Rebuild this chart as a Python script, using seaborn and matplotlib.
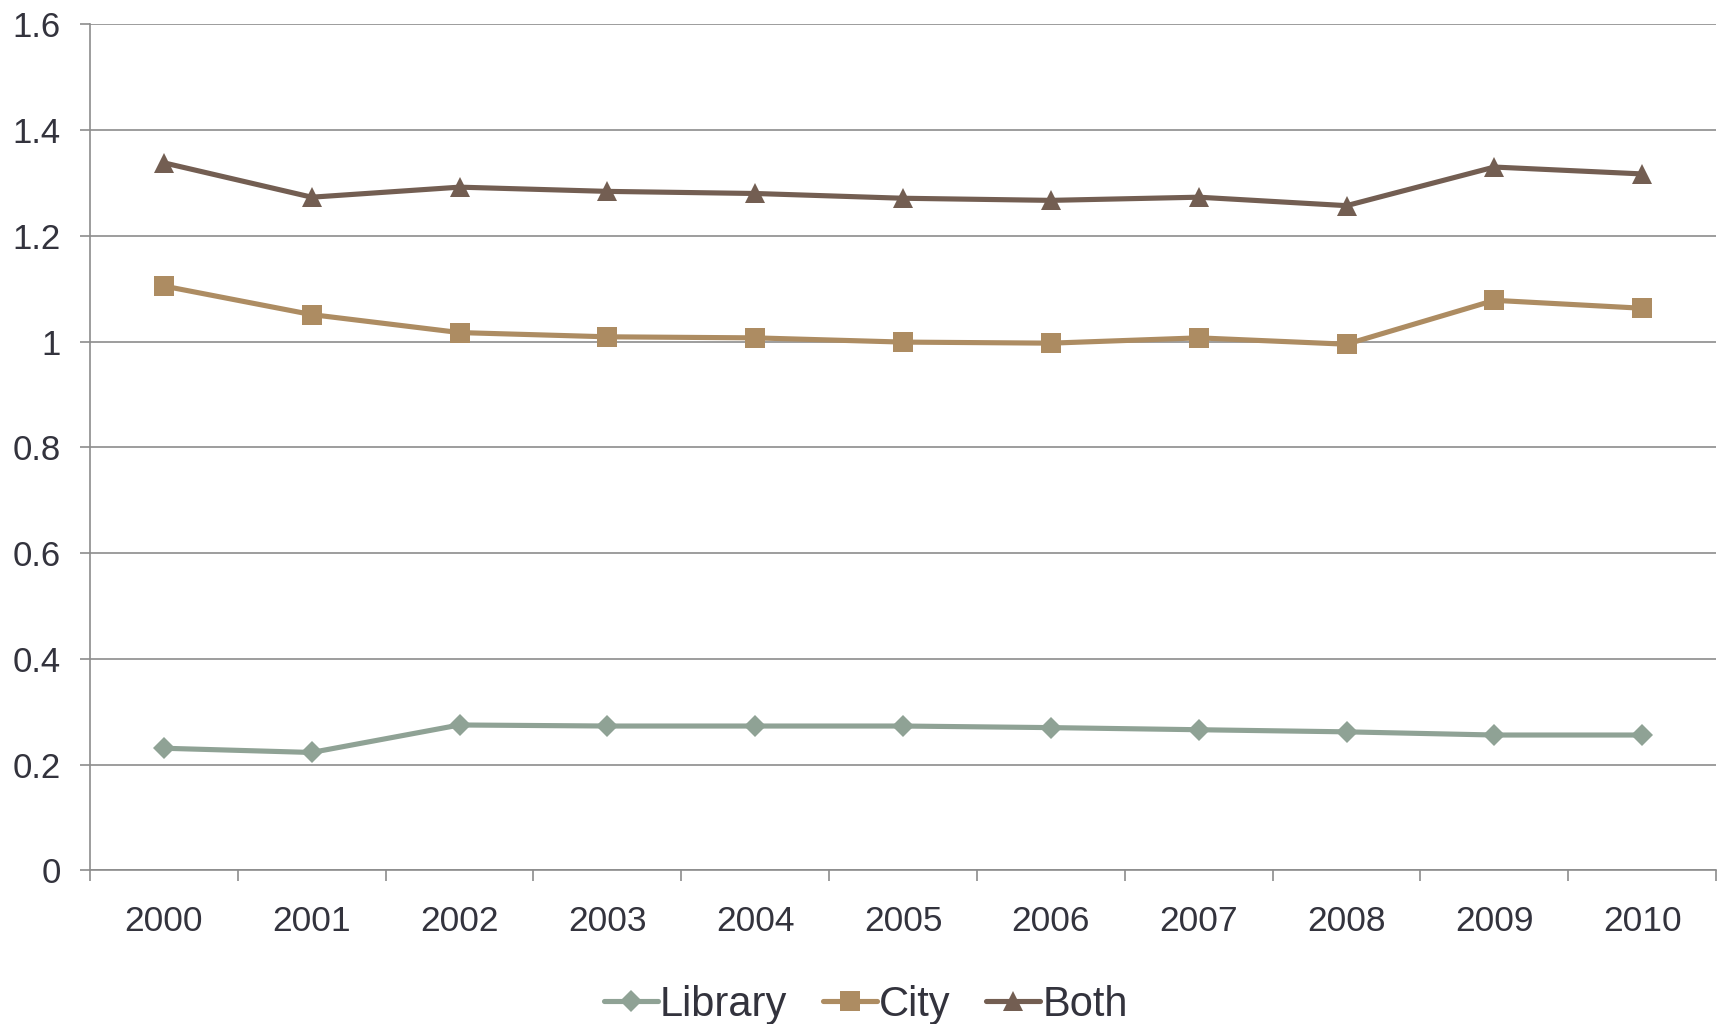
import matplotlib
matplotlib.use("Agg")
import matplotlib.pyplot as plt
from matplotlib.ticker import FixedLocator
import seaborn as sns
import pandas as pd

years = [2000, 2001, 2002, 2003, 2004, 2005, 2006, 2007, 2008, 2009, 2010]
library = [0.231, 0.223, 0.275, 0.273, 0.273, 0.273, 0.270, 0.266, 0.262, 0.256, 0.256]
city = [1.105, 1.051, 1.017, 1.009, 1.007, 0.999, 0.997, 1.007, 0.995, 1.078, 1.063]
both = [1.338, 1.273, 1.292, 1.284, 1.280, 1.271, 1.267, 1.273, 1.257, 1.330, 1.317]
series_names = ["Library", "City", "Both"]
y_ticks = [0, 0.2, 0.4, 0.6, 0.8, 1.0, 1.2, 1.4, 1.6]
y_tick_labels = ["0", "0.2", "0.4", "0.6", "0.8", "1", "1.2", "1.4", "1.6"]

df = pd.DataFrame({"Year": years * 3,
                   "Value": library + city + both,
                   "Series": [n for n in series_names for _ in years]})

sns.set_theme(style="white")
plt.rcParams["font.family"] = ["Liberation Sans", "DejaVu Sans"]

palette = {"Library": "#8fa295", "City": "#ad8c62", "Both": "#735e52"}
markers = {"Library": "D", "City": "s", "Both": "^"}
sizes = {"Library": 11.5, "City": 14, "Both": 14}

fig = plt.figure(figsize=(17.23, 10.24), dpi=100)
ax = fig.add_axes([0.0522, 0.150, 0.9438, 0.8263])

for name in series_names:
    sub = df[df["Series"] == name]
    sns.lineplot(data=sub, x="Year", y="Value", ax=ax, color=palette[name],
                 marker=markers[name], markersize=sizes[name],
                 markeredgewidth=0, linewidth=3.7, label=name, legend=False)

ax.set_xlim(years[0] - 0.5, years[-1] + 0.5)
ax.set_ylim(0, 1.6)
ax.set_yticks(y_ticks)
ax.set_yticklabels(y_tick_labels)
ax.set_xticks(years)
ax.set_xticklabels([str(y) for y in years])
ax.xaxis.set_minor_locator(FixedLocator([y - 0.5 for y in years] + [years[-1] + 0.5]))

grid_c = "#8c8c8c"
ax.yaxis.grid(True, color=grid_c, linewidth=1.2)
ax.xaxis.grid(False)
ax.set_axisbelow(True)
for s in ["top", "right"]:
    ax.spines[s].set_visible(False)
for s in ["left", "bottom"]:
    ax.spines[s].set_color(grid_c)
    ax.spines[s].set_linewidth(1.2)

text_c = "#33333d"
ax.tick_params(axis="y", which="major", length=7, width=1.2, color=grid_c,
               labelsize=25, labelcolor=text_c, pad=14, direction="out", left=True)
ax.tick_params(axis="x", which="major", length=0, labelsize=25.5,
               labelcolor=text_c, pad=25)
ax.tick_params(axis="x", which="minor", length=8, width=1.2, color=grid_c,
               direction="out", bottom=True)
ax.set_xlabel("")
ax.set_ylabel("")

handles, labels = ax.get_legend_handles_labels()
fig.legend(handles, labels, loc="center", bbox_to_anchor=(0.5025, 0.019),
           ncol=3, frameon=False, fontsize=30, handlelength=1.3,
           handletextpad=0.05, columnspacing=0.85, labelcolor=text_c)

fig.savefig("out.png", dpi=100, facecolor="white")
